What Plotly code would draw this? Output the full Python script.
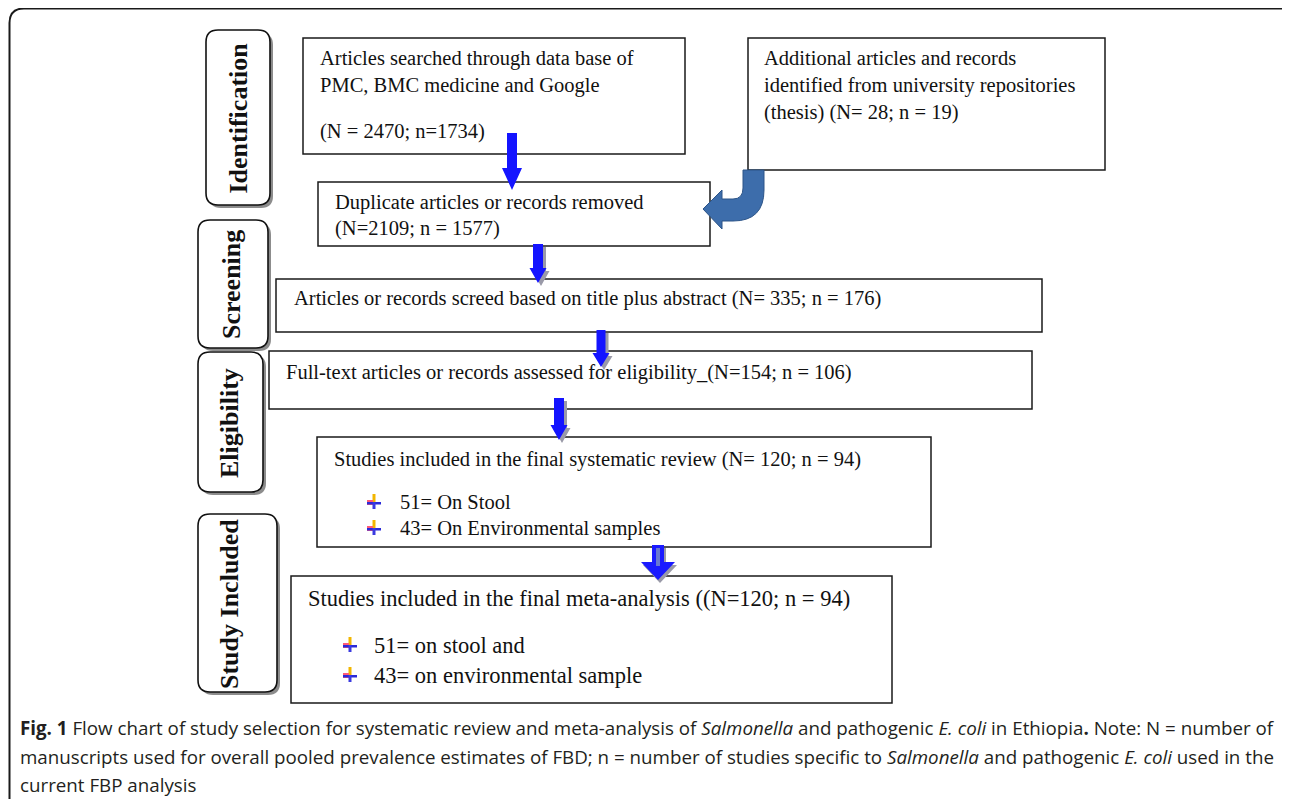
import plotly.graph_objects as go

# ---------------- data (text & counts) ----------------
stage_labels = ["Identification", "Screening", "Eligibility", "Study Included"]
search_sources = ["PMC", "BMC medicine", "Google"]
search_N, search_n = 2470, 1734
extra_N, extra_n = 28, 19
dup_N, dup_n = 2109, 1577
screen_N, screen_n = 335, 176
elig_N, elig_n = 154, 106
review_N, review_n = 120, 94
meta_N, meta_n = 120, 94
sample_counts = [51, 43]
review_sample_labels = ["On Stool", "On Environmental samples"]
meta_sample_labels = ["on stool and", "on environmental sample"]

box_lines = [
    ["Articles searched through data base of",
     f"{search_sources[0]}, {search_sources[1]} and {search_sources[2]}",
     f"(N = {search_N}; n={search_n})"],
    ["Additional articles and records",
     "identified from university repositories",
     f"(thesis) (N= {extra_N}; n = {extra_n})"],
    ["Duplicate articles or records removed",
     f"(N={dup_N}; n = {dup_n})"],
    [f"Articles or records screed based on title plus abstract (N= {screen_N}; n = {screen_n})"],
    [f"Full-text articles or records assessed for eligibility_(N={elig_N}; n = {elig_n})"],
    [f"Studies included in the final systematic review (N= {review_N}; n = {review_n})"],
    [f"Studies included in the final meta-analysis ((N={meta_N}; n = {meta_n})"],
]
review_bullets = [f"{c}= {t}" for c, t in zip(sample_counts, review_sample_labels)]
meta_bullets = [f"{c}= {t}" for c, t in zip(sample_counts, meta_sample_labels)]

caption_lines = [
    "<b>Fig. 1</b> Flow chart of study selection for systematic review and meta-analysis of "
    "<i>Salmonella</i> and pathogenic <i>E. coli</i> in Ethiopia<b>.</b> Note: N = number of",
    "manuscripts used for overall pooled prevalence estimates of FBD; n = number of studies specific to "
    "<i>Salmonella</i> and pathogenic <i>E. coli</i> used in the",
    "current FBP analysis",
]

# ---------------- layout geometry ----------------
W, H = 1290, 799
OFF = 8  # page body margin
SERIF = "Liberation Serif, Times New Roman, serif"
shapes = []
annots = []

def rect(x0, y0, x1, y1, lw=1.5, color="#1a1a1a"):
    shapes.append(dict(type="rect", x0=x0, y0=y0, x1=x1, y1=y1, xref="x", yref="y",
                       line=dict(color=color, width=lw), fillcolor="rgba(0,0,0,0)", layer="above"))

def rounded_path(x0, y0, x1, y1, r):
    return (f"M {x0+r},{y0} L {x1-r},{y0} Q {x1},{y0} {x1},{y0+r} L {x1},{y1-r} "
            f"Q {x1},{y1} {x1-r},{y1} L {x0+r},{y1} Q {x0},{y1} {x0},{y1-r} "
            f"L {x0},{y0+r} Q {x0},{y0} {x0+r},{y0} Z")

def text(x, y, s, size=20.5, anchor="left", angle=0, family=SERIF, color="#111", bold=False):
    if bold:
        s = f"<b>{s}</b>"
    annots.append(dict(x=x, y=y, xref="x", yref="y", text=s, showarrow=False,
                       xanchor=anchor, yanchor="middle", textangle=angle,
                       font=dict(family=family, size=size, color=color)))

def down_arrow(cx, top, tip, sw, hw, hh, color="#1414ff", shadow=True, dx=3, dy=3):
    def p(ox, oy):
        return (f"M {cx-sw/2+ox},{top+oy} L {cx+sw/2+ox},{top+oy} L {cx+sw/2+ox},{tip-hh+oy} "
                f"L {cx+hw/2+ox},{tip-hh+oy} L {cx+ox},{tip+oy} L {cx-hw/2+ox},{tip-hh+oy} "
                f"L {cx-sw/2+ox},{tip-hh+oy} Z")
    if shadow:
        shapes.append(dict(type="path", path=p(dx, dy), xref="x", yref="y",
                           fillcolor="#9a9aa8", line=dict(width=0), layer="above"))
    shapes.append(dict(type="path", path=p(0, 0), xref="x", yref="y",
                       fillcolor=color, line=dict(width=0), layer="above"))

def bullet(cx, cy):
    # small coloured cross bullet
    shapes.append(dict(type="rect", x0=cx-1.5, x1=cx+1.5, y0=cy-8, y1=cy, xref="x", yref="y",
                       fillcolor="#f2b600", line=dict(width=0), layer="above"))
    shapes.append(dict(type="rect", x0=cx-7, x1=cx-1, y0=cy-2, y1=cy+3, xref="x", yref="y",
                       fillcolor="#ff5a78", line=dict(width=0), layer="above"))
    shapes.append(dict(type="rect", x0=cx-7, x1=cx+7, y0=cy, y1=cy+2.5, xref="x", yref="y",
                       fillcolor="#2a2ad8", line=dict(width=0), layer="above"))
    shapes.append(dict(type="rect", x0=cx-1.5, x1=cx+1.5, y0=cy, y1=cy+7, xref="x", yref="y",
                       fillcolor="#3a3ae0", line=dict(width=0), layer="above"))

# outer frame
shapes.append(dict(type="path", xref="x", yref="y",
                   path="M 9.5,805 L 9.5,23 Q 9.5,8.5 24,8.5 L 1281,8.5 Q 1289,8.5 1289,16 L 1289,805",
                   line=dict(color="#1a1a1a", width=2), layer="above"))

# stage label boxes (x0, y0, x1, y1, text_x)
stage_geo = [(206, 30, 270, 205, 238), (198, 220, 268, 348, 231),
             (198, 352, 263, 492, 229), (198, 514, 277, 692, 229)]
for (x0, y0, x1, y1, tx), lab in zip(stage_geo, stage_labels):
    shapes.append(dict(type="path", path=rounded_path(x0+3, y0+3, x1+3, y1+3, 12), xref="x", yref="y",
                       fillcolor="#8c8c8c", line=dict(width=0), layer="above"))
    shapes.append(dict(type="path", path=rounded_path(x0, y0, x1, y1, 12), xref="x", yref="y",
                       fillcolor="white", line=dict(color="#111", width=1.6), layer="above"))
    text(tx, (y0 + y1) / 2 + 1, lab, size=26, anchor="center", angle=-90, bold=True)

# content boxes: (x0, y0, x1, y1, text_x, line y positions, font size)
box_geo = [
    (303, 38, 685, 154, 318, [58, 85, 131], 20.5),
    (748, 38, 1105, 170, 762, [58, 85, 112], 20.5),
    (318, 182, 710, 246, 333, [202, 228], 20.5),
    (276, 279, 1042, 332, 292, [298], 20.5),
    (269, 351, 1032, 409, 284, [372], 20.5),
    (317, 437, 931, 547, 332, [459], 20.5),
    (291, 576, 892, 703, 306, [598], 22.5),
]
for (x0, y0, x1, y1, tx, ys, fs), lines in zip(box_geo, box_lines):
    rect(x0, y0, x1, y1)
    for ln, y in zip(lines, ys):
        text(tx, y, ln, size=fs)
# bullets
for i, b in enumerate(review_bullets):
    y = 502 + i * 26
    bullet(374, y)
    text(398, y, b, size=20.5)
for i, b in enumerate(meta_bullets):
    y = 645 + i * 30
    bullet(350, y)
    text(372, y, b, size=22.5)

# straight blue arrows
down_arrow(512, 133, 190, 10, 20, 22, shadow=False)
down_arrow(538, 244, 283, 10, 17, 15)
down_arrow(601, 330, 367, 9, 17, 14)
down_arrow(559, 398, 440, 10, 17, 15)
down_arrow(658, 545, 580, 12, 34, 18, color="#1a1aff", shadow=True, dx=2, dy=3)
shapes.append(dict(type="rect", x0=656, x1=660, y0=548, y1=566, xref="x", yref="y",
                   fillcolor="#6a78d0", line=dict(width=0), layer="above"))

# curved arrow from additional-records box to duplicates box
shapes.append(dict(type="path", xref="x", yref="y",
                   path="M 743,170 L 764,170 L 764,190 Q 764,221 733,221 L 722,221 L 722,229 "
                        "L 703,209 L 722,190 L 722,199 L 733,199 Q 743,199 743,188 Z",
                   fillcolor="#3d6dab", line=dict(color="#2c5488", width=1), layer="above"))

# caption
cap_y = [727, 756, 784]
for ln, y in zip(caption_lines, cap_y):
    annots.append(dict(x=18, y=y, xref="x", yref="y", text=ln, showarrow=False,
                       xanchor="left", yanchor="middle",
                       font=dict(family="Open Sans, Noto Sans, sans-serif", size=18.75, color="#231f20")))

fig = go.Figure()
fig.update_layout(
    width=W - OFF, height=H - OFF, margin=dict(l=0, r=0, t=0, b=0),
    paper_bgcolor="white", plot_bgcolor="white", showlegend=False,
    xaxis=dict(range=[OFF, W], visible=False, fixedrange=True),
    yaxis=dict(range=[H, OFF], visible=False, fixedrange=True),
    shapes=shapes, annotations=annots,
)
fig.write_html("out.html")
